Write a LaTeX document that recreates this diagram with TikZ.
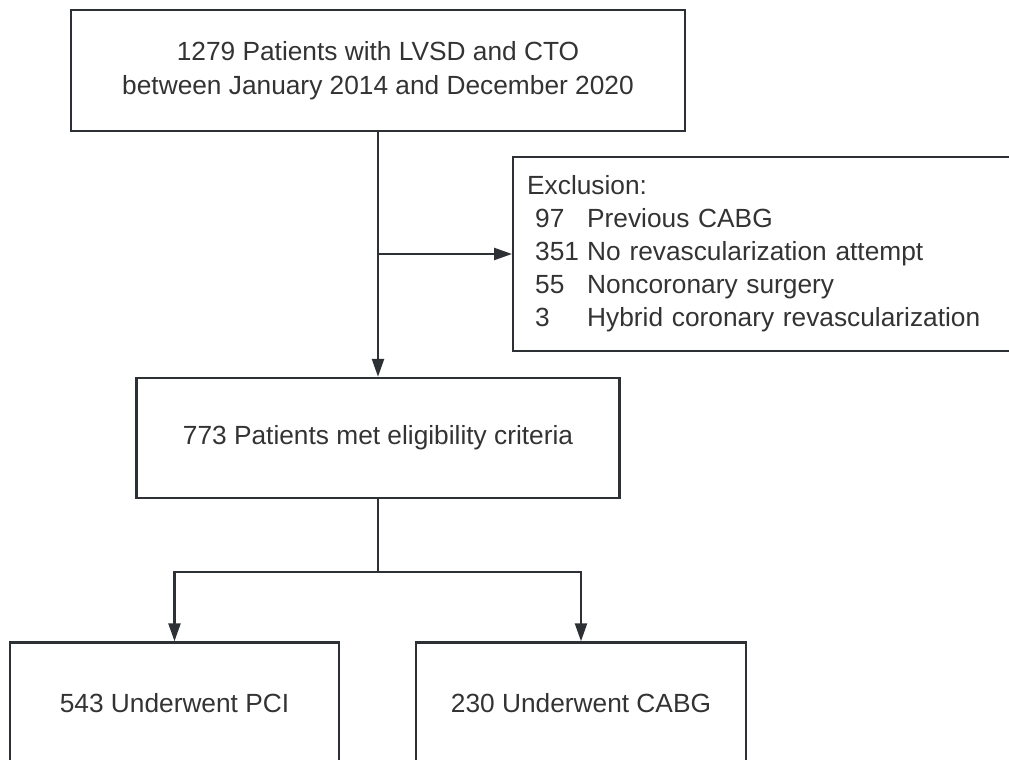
\documentclass[tikz,border=0pt]{standalone}
\usepackage{fontspec}
\setmainfont{Liberation Sans}
\usepackage{tikz}
\usetikzlibrary{arrows.meta, positioning, calc}
\definecolor{boxgray}{RGB}{45, 48, 52}
\definecolor{textgray}{RGB}{51, 51, 51}

\begin{document}
\begin{tikzpicture}[
        box/.style={draw=boxgray, line width=1.7pt, text=textgray, align=center,
            font=\fontsize{18.7}{24.2}\selectfont},
        link/.style={draw=boxgray, line width=1.7pt},
        flow/.style={link, -{Triangle[length=0.45cm, width=0.3cm]}}
    ]
        \clip (0,0) rectangle (25.225,19);

        % Screened population
        \node[box, minimum width=15.35cm, minimum height=3.025cm] (screen) at (9.45,17.2375)
            {1279 Patients with LVSD and CTO\\between January 2014 and December 2020};

        % Exclusion box (runs off the right edge)
        \node[box, anchor=west, align=left, text width=12.5cm, inner xsep=0.35cm,
              minimum height=4.85cm, font=\fontsize{18.7}{23.5}\selectfont] (excl) at (12.8,12.65)
            {Exclusion:\\
             \hspace*{0.2cm}\makebox[1.3cm][l]{97}Previous CABG\\
             \hspace*{0.2cm}\makebox[1.3cm][l]{351}No revascularization attempt\\
             \hspace*{0.2cm}\makebox[1.3cm][l]{55}Noncoronary surgery\\
             \hspace*{0.2cm}\makebox[1.3cm][l]{3}Hybrid coronary revascularization};

        % Eligible
        \node[box, minimum width=12.075cm, minimum height=3cm] (elig) at (9.45,8.05)
            {773 Patients met eligibility criteria};

        % Treatment groups
        \node[box, minimum width=8.225cm, minimum height=3.025cm] (pci) at (4.3625,1.425)
            {543 Underwent PCI};
        \node[box, minimum width=8.25cm, minimum height=3.025cm] (cabg) at (14.525,1.425)
            {230 Underwent CABG};

        % Connectors
        \draw[flow] (screen.south) -- (elig.north);
        \coordinate (branch) at (screen.south |- excl.west);
        \draw[flow] (branch) -- (excl.west);

        \coordinate (split) at ($(elig.south)+(0,-1.825)$);
        \draw[link] (elig.south) -- (split);
        \draw[flow] (split) -| (pci.north);
        \draw[flow] (split) -| (cabg.north);
    \end{tikzpicture}
\end{document}
